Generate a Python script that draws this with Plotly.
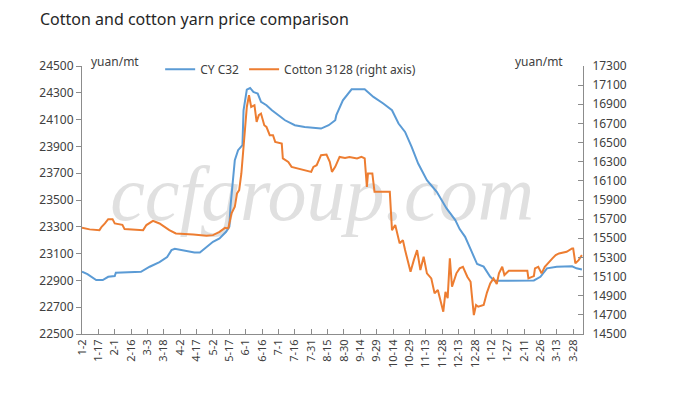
import plotly.graph_objects as go

# ---------------- data ----------------
tick_labels = ["1-2", "1-17", "2-1", "2-16", "3-3", "3-18", "4-2", "4-17", "5-2", "5-17",
               "6-1", "6-16", "7-1", "7-16", "7-31", "8-15", "8-30", "9-14", "9-29", "10-14",
               "10-29", "11-13", "11-28", "12-13", "12-28", "1-12", "1-27", "2-11", "2-26",
               "3-13", "3-28"]
tick_days = [15 * i for i in range(len(tick_labels))]

# CY C32 (left axis), day offset from 1-2
cy_day = [0, 5, 13, 19, 24, 30, 31, 54, 62, 71,
          78, 82, 85, 96, 103, 108, 114, 120, 126, 132,
          135, 136, 140, 143, 147, 148, 151, 154, 157, 161,
          164, 169, 174, 178, 186, 195, 204, 219, 226, 232,
          233, 239, 247, 259, 267, 276, 284, 290, 296, 302,
          308, 316, 325, 334, 342, 346, 351, 357, 362, 368,
          374, 378, 397, 414, 420, 426, 435, 449, 453, 458]
cy_val = [22965, 22947, 22903, 22903, 22927, 22932, 22957, 22964, 23002, 23037,
          23074, 23126, 23136, 23119, 23108, 23108, 23151, 23188, 23213, 23263,
          23300, 23449, 23797, 23872, 23909, 24170, 24324, 24336, 24306, 24294,
          24232, 24207, 24170, 24145, 24095, 24058, 24045, 24033, 24058, 24095,
          24133, 24244, 24326, 24326, 24269, 24220, 24170, 24071, 24008, 23896,
          23772, 23648, 23561, 23437, 23350, 23283, 23225, 23114, 23022, 23003,
          22927, 22897, 22897, 22900, 22927, 22990, 23002, 23005, 22990, 22982]

# Cotton 3128 (right axis)
cotton_day = [0, 7, 16, 18, 21, 24, 28, 30, 37, 39,
              56, 59, 65, 71, 80, 86, 102, 114, 120, 126,
              131, 134, 137, 140, 142, 144, 146, 148, 151, 153,
              155, 158, 160, 162, 164, 167, 169, 172, 175, 177,
              183, 184, 189, 192, 198, 204, 210, 212, 215, 219,
              224, 227, 229, 232, 236, 241, 245, 252, 256, 259,
              261, 262, 266, 268, 282, 284, 287, 291, 294, 296,
              301, 304, 307, 310, 313, 316, 320, 323, 326, 331,
              333, 335, 337, 339, 343, 346, 349, 353, 356, 357,
              359, 361, 363, 368, 371, 374, 377, 380, 382, 385,
              387, 391, 408, 409, 414, 415, 418, 421, 424, 431,
              434, 437, 444, 449, 450, 452, 455, 458]
cotton_val = [15609, 15593, 15585, 15620, 15655, 15700, 15700, 15655, 15641, 15596,
              15585, 15638, 15682, 15655, 15585, 15551, 15540, 15526, 15533, 15568,
              15609, 15603, 15760, 15829, 15968, 16003, 16177, 16490, 16872, 16994,
              16872, 16890, 16716, 16786, 16803, 16681, 16663, 16577, 16577, 16507,
              16490, 16334, 16298, 16246, 16229, 16212, 16194, 16246, 16264, 16368,
              16375, 16298, 16194, 16246, 16350, 16340, 16350, 16334, 16350, 16334,
              16037, 16177, 16177, 15985, 15985, 15585, 15638, 15447, 15481, 15377,
              15150, 15272, 15377, 15168, 15307, 15134, 15081, 14925, 14959, 14733,
              14941, 14873, 15290, 14994, 15134, 15186, 15202, 15098, 15046, 14925,
              14698, 14803, 14785, 14803, 14933, 15029, 15081, 15022, 15133, 15202,
              15116, 15161, 15161, 15081, 15105, 15186, 15202, 15133, 15202, 15290,
              15324, 15342, 15359, 15394, 15394, 15238, 15272, 15324]

X_RANGE = [0, 459]
Y1_RANGE = [22500, 24500]
Y2_RANGE = [14500, 17300]

BLUE = "#5B9BD5"
ORANGE = "#ED7D31"
AXIS = "#8C8C8C"
TXT = "#404040"
FONT = "Noto Sans"

fig = go.Figure()

# watermark (drawn first so lines sit on top)
fig.add_trace(go.Scatter(
    x=[220], y=[23500], mode="text", text=["ccfgroup.com"],
    textfont=dict(family="Liberation Serif", size=78, color="#e0e0e0", style="italic"),
    showlegend=False, hoverinfo="skip"))

fig.add_trace(go.Scatter(x=cy_day, y=cy_val, mode="lines", name="CY C32",
                         line=dict(color=BLUE, width=2)))
fig.add_trace(go.Scatter(x=cotton_day, y=cotton_val, mode="lines",
                         name="Cotton 3128 (right axis)", yaxis="y2",
                         line=dict(color=ORANGE, width=2)))

# page body has an 8px default margin, so the figure is 8px smaller and everything shifted
fig.update_layout(
    width=678, height=388,
    margin=dict(l=74, r=103, t=58, b=62),
    paper_bgcolor="white", plot_bgcolor="white",
    font=dict(family=FONT, size=12, color=TXT),
    title=dict(text="Cotton and cotton yarn price comparison", x=32 / 678, xanchor="left",
               y=1 - 11 / 388, yanchor="middle",
               font=dict(family=FONT, size=16, color="#262626")),
    showlegend=True,
    legend=dict(orientation="h", x=0.156, xanchor="left", y=1.042, yanchor="top",
                font=dict(family=FONT, size=12, color=TXT), bgcolor="rgba(0,0,0,0)",
                itemwidth=30, tracegroupgap=0),
    xaxis=dict(range=X_RANGE, tickmode="array", tickvals=tick_days, ticktext=tick_labels,
               tickangle=-90, ticks="inside", ticklen=5, tickcolor=AXIS,
               showline=True, linecolor=AXIS, linewidth=1, showgrid=False, zeroline=False,
               tickfont=dict(size=11, color=TXT)),
    yaxis=dict(range=Y1_RANGE, dtick=200, tick0=22500, tickformat="d", ticks="outside",
               ticklen=5, tickcolor=AXIS, showline=True, linecolor=AXIS, linewidth=1,
               showgrid=False, zeroline=False, tickfont=dict(size=12, color=TXT)),
    yaxis2=dict(range=Y2_RANGE, dtick=200, tick0=14500, tickformat="d", overlaying="y",
                side="right", ticks="inside", ticklen=5, tickcolor=AXIS, showline=True,
                linecolor=AXIS, linewidth=1, showgrid=False, zeroline=False,
                ticklabelstandoff=6, tickfont=dict(size=12, color=TXT)),
    annotations=[
        dict(text="yuan/mt", xref="paper", yref="paper", x=7 / 501, y=1.016,
             xanchor="left", yanchor="middle", showarrow=False,
             font=dict(family=FONT, size=12, color=TXT)),
        dict(text="yuan/mt", xref="paper", yref="paper", x=(565 - 82) / 501, y=1.016,
             xanchor="right", yanchor="middle", showarrow=False,
             font=dict(family=FONT, size=12, color=TXT)),
    ],
)

fig.write_html("out.html")
